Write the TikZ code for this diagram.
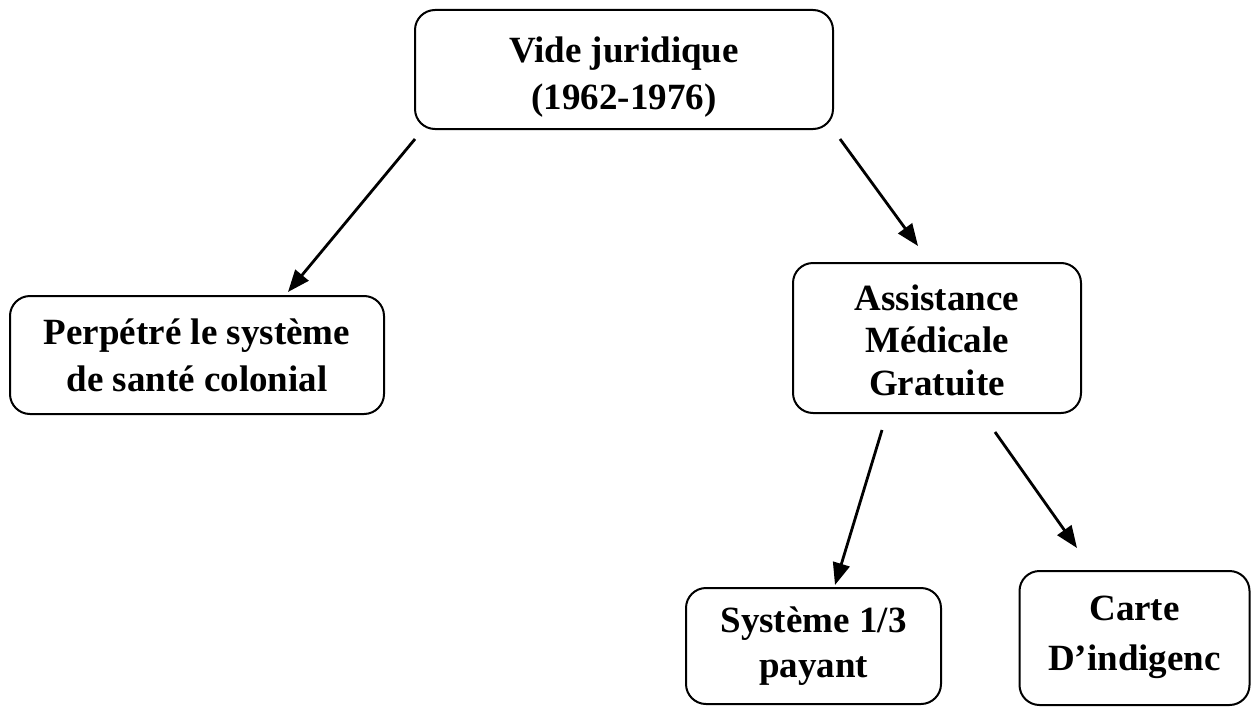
\documentclass[tikz,border=0pt]{standalone}
\usepackage{fontspec}
\setmainfont{Liberation Serif}
\usetikzlibrary{arrows.meta}
% centred lines, lowered by #1 without changing the box size
\newcommand{\lowlines}[2]{\raisebox{-#1}[\height][\depth]{\begin{tabular}{@{}c@{}}#2\end{tabular}}}
\begin{document}
\begin{tikzpicture}[x=0.5pt,y=-0.5pt,
  box/.style={draw,line width=1pt,rounded corners=10pt,align=center,
    font=\fontsize{18.5}{22.5}\selectfont\bfseries,inner sep=0pt},
  arr/.style={line width=1.4pt,-{Triangle[length=11pt,width=8.5pt]}}]
\useasboundingbox (0,0) rectangle (1251,706);
% boxes
\node[box,minimum width=209pt,minimum height=59.5pt,font=\fontsize{18.5}{23.5}\selectfont\bfseries] (top) at (624,69.5)
  {\lowlines{3.5pt}{Vide juridique\\(1962-1976)}};
\node[box,minimum width=187pt,minimum height=59pt,font=\fontsize{18.5}{23.5}\selectfont\bfseries] (left) at (197,355)
  {Perpétré le système\\de santé colonial};
\node[box,minimum width=144pt,minimum height=75pt,font=\fontsize{18.5}{21.25}\selectfont\bfseries] (amg) at (937,338)
  {\lowlines{3pt}{Assistance\\Médicale\\Gratuite}};
\node[box,minimum width=127.5pt,minimum height=58pt] (sys) at (813.5,646) {Système 1/3\\payant};
\node[box,minimum width=115pt,minimum height=67pt,font=\fontsize{18.5}{25}\selectfont\bfseries] (carte) at (1134.5,638)
  {\lowlines{-1.5pt}{Carte\\D’indigenc}};
% arrow ends
\coordinate (a1s) at (415,139); \coordinate (a1e) at (288,292);
\coordinate (a2s) at (840,139); \coordinate (a2e) at (918,246);
\coordinate (a3s) at (882,430); \coordinate (a3e) at (835,585);
\coordinate (a4s) at (995,432); \coordinate (a4e) at (1077,548);
\draw[arr] (a1s) -- (a1e);
\draw[arr] (a2s) -- (a2e);
\draw[arr] (a3s) -- (a3e);
\draw[arr] (a4s) -- (a4e);
\end{tikzpicture}
\end{document}
